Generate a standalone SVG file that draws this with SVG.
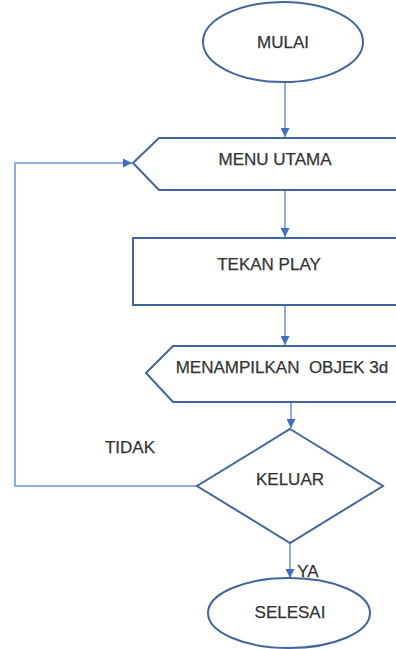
<svg xmlns="http://www.w3.org/2000/svg" width="396" height="649" viewBox="0 0 396 649">
  <style>
    .shape { fill: #ffffff; stroke: #41659f; stroke-width: 2; }
    .conn { fill: none; stroke: #6f97da; stroke-width: 1.6; }
    .label { font-family: "Liberation Sans", Arial, sans-serif; font-size: 17px; fill: #333333; stroke: #333333; stroke-width: 0.25; text-anchor: middle; dominant-baseline: central; }
  </style>
  <defs>
    <marker id="arrow" viewBox="0 0 10 10" refX="10" refY="5" markerWidth="9" markerHeight="9" markerUnits="userSpaceOnUse" orient="auto">
      <path d="M0,0 L10,5 L0,10 Z" fill="#3f6cc4"/>
    </marker>
  </defs>
  <rect width="396" height="649" fill="#ffffff"/>

  <g id="connectors">
    <line class="conn" x1="285" y1="82" x2="285" y2="137" marker-end="url(#arrow)"/>
    <line class="conn" x1="285" y1="190" x2="285" y2="237" marker-end="url(#arrow)"/>
    <line class="conn" x1="285" y1="305" x2="285" y2="345" marker-end="url(#arrow)"/>
    <line class="conn" x1="291" y1="402" x2="291" y2="428" marker-end="url(#arrow)"/>
    <line class="conn" x1="290" y1="543" x2="290" y2="578" marker-end="url(#arrow)"/>
    <polyline class="conn" points="197,486 15,486 15,163 132,163" marker-end="url(#arrow)"/>
  </g>

  <g id="mulai">
    <ellipse class="shape" cx="283" cy="42" rx="80" ry="40"/>
    <text class="label" x="283" y="42">MULAI</text>
  </g>

  <g id="menu-utama">
    <polygon class="shape" points="133,163 159,138 400,138 400,190 159,190"/>
    <text class="label" x="275" y="159">MENU UTAMA</text>
  </g>

  <g id="tekan-play">
    <rect class="shape" x="133" y="238" width="270" height="67"/>
    <text class="label" x="269" y="264">TEKAN PLAY</text>
  </g>

  <g id="menampilkan-objek">
    <polygon class="shape" points="146,373 173,346 400,346 400,402 173,402"/>
    <text class="label" x="282" y="367" xml:space="preserve">MENAMPILKAN  OBJEK 3d</text>
  </g>

  <g id="keluar">
    <polygon class="shape" points="290,429 383,486 290,543 197,486"/>
    <text class="label" x="290" y="479">KELUAR</text>
  </g>

  <g id="tidak-label">
    <text class="label" x="130" y="447">TIDAK</text>
  </g>

  <g id="ya-label">
    <text class="label" x="308" y="571">YA</text>
  </g>

  <g id="selesai">
    <ellipse class="shape" cx="289" cy="613" rx="81" ry="35"/>
    <text class="label" x="290" y="612">SELESAI</text>
  </g>
</svg>
